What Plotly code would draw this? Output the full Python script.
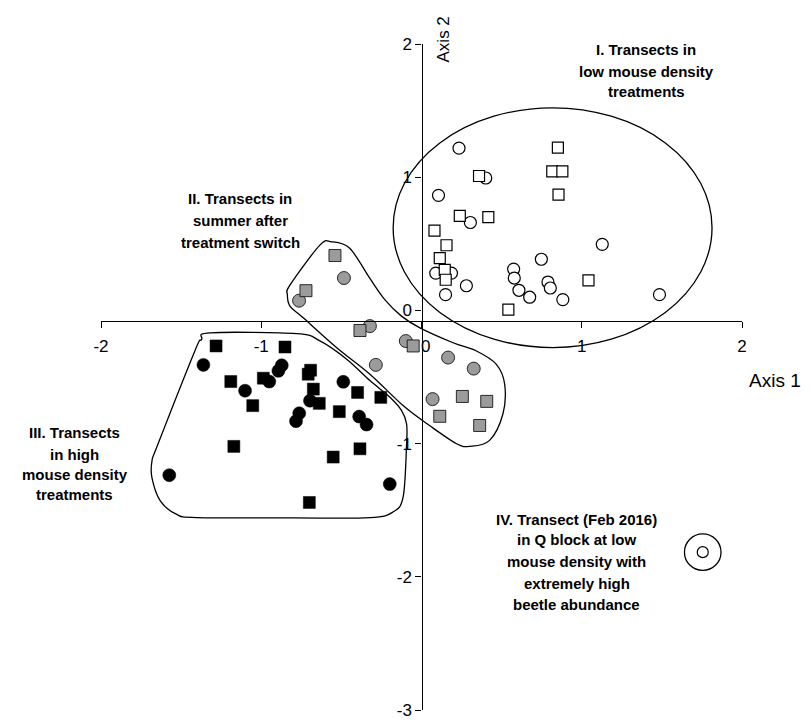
import plotly.graph_objects as go

# ---- ordination scores (NMDS axis 1, axis 2) ----
low_circle_x = [0.234, 0.401, 0.106, 0.305, 0.089, 0.187, 0.280, 0.150, 0.575, 0.579,
                0.608, 0.675, 0.748, 0.789, 0.804, 0.882, 1.128, 1.485]
low_circle_y = [1.218, 0.994, 0.864, 0.660, 0.280, 0.280, 0.185, 0.118, 0.310, 0.243,
                0.151, 0.099, 0.384, 0.213, 0.168, 0.081, 0.496, 0.118]
low_square_x = [0.851, 0.816, 0.879, 0.855, 0.359, 0.239, 0.417, 0.081, 0.156, 0.114,
                0.145, 0.151, 0.542, 1.042]
low_square_y = [1.222, 1.043, 1.043, 0.869, 1.009, 0.710, 0.700, 0.599, 0.489, 0.392,
                0.304, 0.230, 0.006, 0.225]

switch_circle_x = [-0.484, -0.764, -0.322, -0.098, -0.285, 0.166, 0.326, 0.069]
switch_circle_y = [0.243, 0.073, -0.118, -0.230, -0.409, -0.354, -0.437, -0.666]
switch_square_x = [-0.540, -0.721, -0.384, -0.052, 0.255, 0.407, 0.114, 0.363]
switch_square_y = [0.412, 0.148, -0.151, -0.267, -0.646, -0.683, -0.795, -0.864]

high_circle_x = [-1.361, -1.101, -0.950, -0.893, -0.872, -1.574, -0.696, -0.763, -0.783,
                 -0.488, -0.389, -0.343, -0.198]
high_circle_y = [-0.409, -0.603, -0.534, -0.454, -0.412, -1.237, -0.678, -0.772, -0.832,
                 -0.536, -0.797, -0.857, -1.304]
high_square_x = [-1.282, -1.190, -0.987, -1.053, -1.171, -0.852, -0.692, -0.707, -0.675,
                 -0.638, -0.399, -0.254, -0.513, -0.384, -0.551, -0.700]
high_square_y = [-0.267, -0.534, -0.509, -0.715, -1.021, -0.275, -0.449, -0.479, -0.591,
                 -0.698, -0.616, -0.653, -0.760, -1.039, -1.101, -1.442]

qblock_x = [1.755]
qblock_y = [-1.815]

x_ticks = [-2, -1, 0, 1, 2]
y_ticks = [-3, -2, -1, 0, 1, 2]

FONT = "Liberation Sans, Arial, sans-serif"
GREY = "#9b9b9b"
X_AXIS_POS = 0.5842  # horizontal axis crosses the vertical one slightly below 0

fig = go.Figure()


def add_points(xs, ys, symbol, fill, size, line_w=1.2):
    fig.add_trace(go.Scatter(
        x=xs, y=ys, mode="markers", showlegend=False, hoverinfo="skip",
        marker=dict(symbol=symbol, size=size, color=fill,
                    line=dict(color="black", width=line_w)),
    ))


add_points(low_circle_x, low_circle_y, "circle", "white", 12)
add_points(low_square_x, low_square_y, "square", "white", 11)
add_points(switch_circle_x, switch_circle_y, "circle", GREY, 13, 0.8)
add_points(switch_square_x, switch_square_y, "square", GREY, 12, 0.8)
add_points(high_circle_x, high_circle_y, "circle", "black", 13, 0.5)
add_points(high_square_x, high_square_y, "square", "black", 12, 0.5)
add_points(qblock_x, qblock_y, "circle", "white", 11)


# ---- smooth closed outlines drawn around point groups ----
def smooth_path(pts):
    """Closed Catmull-Rom curve through pts, written as SVG cubic segments."""
    n = len(pts)
    d = f"M{pts[0][0]},{pts[0][1]}"
    for i in range(n):
        p0, p1, p2, p3 = pts[i - 1], pts[i], pts[(i + 1) % n], pts[(i + 2) % n]
        c1 = (p1[0] + (p2[0] - p0[0]) / 6, p1[1] + (p2[1] - p0[1]) / 6)
        c2 = (p2[0] - (p3[0] - p1[0]) / 6, p2[1] - (p3[1] - p1[1]) / 6)
        d += f" C{c1[0]:.4f},{c1[1]:.4f} {c2[0]:.4f},{c2[1]:.4f} {p2[0]:.4f},{p2[1]:.4f}"
    return d + " Z"


switch_outline = [
    (-0.561, 0.515), (-0.448, 0.466), (-0.323, 0.242), (-0.229, 0.081), (-0.125, -0.043),
    (-0.010, -0.131), (0.197, -0.243), (0.343, -0.305), (0.467, -0.405), (0.519, -0.554),
    (0.508, -0.778), (0.425, -0.976), (0.302, -1.021), (0.219, -1.001), (0.050, -0.864),
    (-0.115, -0.714), (-0.322, -0.479), (-0.529, -0.280), (-0.738, -0.056), (-0.820, 0.031),
    (-0.837, 0.118), (-0.820, 0.192), (-0.634, 0.490),
]
high_outline = [
    (-1.319, -0.168), (-0.780, -0.175), (-0.634, -0.229), (-0.467, -0.366), (-0.322, -0.527),
    (-0.197, -0.652), (-0.125, -0.751), (-0.093, -0.853), (-0.093, -1.002), (-0.114, -1.397),
    (-0.176, -1.512), (-0.322, -1.556), (-0.800, -1.558), (-1.402, -1.555), (-1.530, -1.530),
    (-1.630, -1.430), (-1.682, -1.257), (-1.682, -1.132), (-1.645, -1.005), (-1.415, -0.306),
    (-1.373, -0.219),
]

shapes = [
    dict(type="circle", xref="x", yref="y", x0=-0.177, x1=1.813, y0=-0.279, y1=1.521,
         line=dict(color="black", width=1.3)),
    dict(type="path", xref="x", yref="y", path=smooth_path(switch_outline),
         line=dict(color="black", width=1.3)),
    dict(type="path", xref="x", yref="y", path=smooth_path(high_outline),
         line=dict(color="black", width=1.3)),
    dict(type="circle", xref="x", yref="y", x0=1.641, x1=1.869, y0=-1.952, y1=-1.678,
         line=dict(color="black", width=1.3)),
]

# ---- group labels, one annotation per line (paper coordinates) ----
labels = [
    (0.851, [0.992, 0.959, 0.928], ["I. Transects in", "low mouse density", "treatments"]),
    (0.217, [0.768, 0.735, 0.702], ["II. Transects in", "summer after", "treatment switch"]),
    (-0.0406, [0.417, 0.384, 0.353, 0.323],
     ["III. Transects", "in high", "mouse density", "treatments"]),
    (0.742, [0.286, 0.256, 0.223, 0.190, 0.159],
     ["IV. Transect (Feb 2016)", "in Q block at low", "mouse density with",
      "extremely high", "beetle abundance"]),
]
annotations = []
for cx, ys, lines in labels:
    for yy, txt in zip(ys, lines):
        annotations.append(dict(
            x=cx, y=yy, xref="paper", yref="paper", text=txt, showarrow=False,
            xanchor="center", yanchor="middle",
            font=dict(family=FONT, size=15, color="black", weight="bold"),
        ))

annotations.append(dict(x=1.0515, y=0.4948, xref="paper", yref="paper", text="Axis 1",
                        showarrow=False, xanchor="center", yanchor="middle",
                        font=dict(family=FONT, size=19, color="black")))
annotations.append(dict(x=0.535, y=1.0067, xref="paper", yref="paper", text="Axis 2",
                        showarrow=False, textangle=-90, xanchor="center", yanchor="middle",
                        font=dict(family=FONT, size=17, color="black")))
# zero label of the horizontal axis, set just right of the vertical axis line
annotations.append(dict(x=0, y=X_AXIS_POS, xref="x", yref="paper", text="0",
                        showarrow=False, xanchor="center", yanchor="middle",
                        xshift=4, yshift=-26,
                        font=dict(family=FONT, size=17, color="black")))

axis_style = dict(showgrid=False, zeroline=False, showline=True, linecolor="black",
                  linewidth=1.3, ticks="outside", ticklen=6, tickcolor="black",
                  tickwidth=1.3, anchor="free", tickfont=dict(size=17),
                  ticklabeloverflow="allow", automargin=False, layer="above traces")

fig.update_layout(
    width=811, height=720,
    margin=dict(l=101, r=69, t=44, b=10, autoexpand=False),
    paper_bgcolor="white", plot_bgcolor="white",
    font=dict(family=FONT, size=16, color="black"),
    shapes=shapes, annotations=annotations,
    xaxis=dict(range=[-2, 2], tickvals=x_ticks,
               ticktext=["" if v == 0 else str(v) for v in x_ticks],
               position=X_AXIS_POS, ticklabelstandoff=4, **axis_style),
    yaxis=dict(range=[-3, 2], tickvals=y_ticks, ticktext=[str(v) for v in y_ticks],
               position=0.5, **axis_style),
)

fig.write_html("out.html")
